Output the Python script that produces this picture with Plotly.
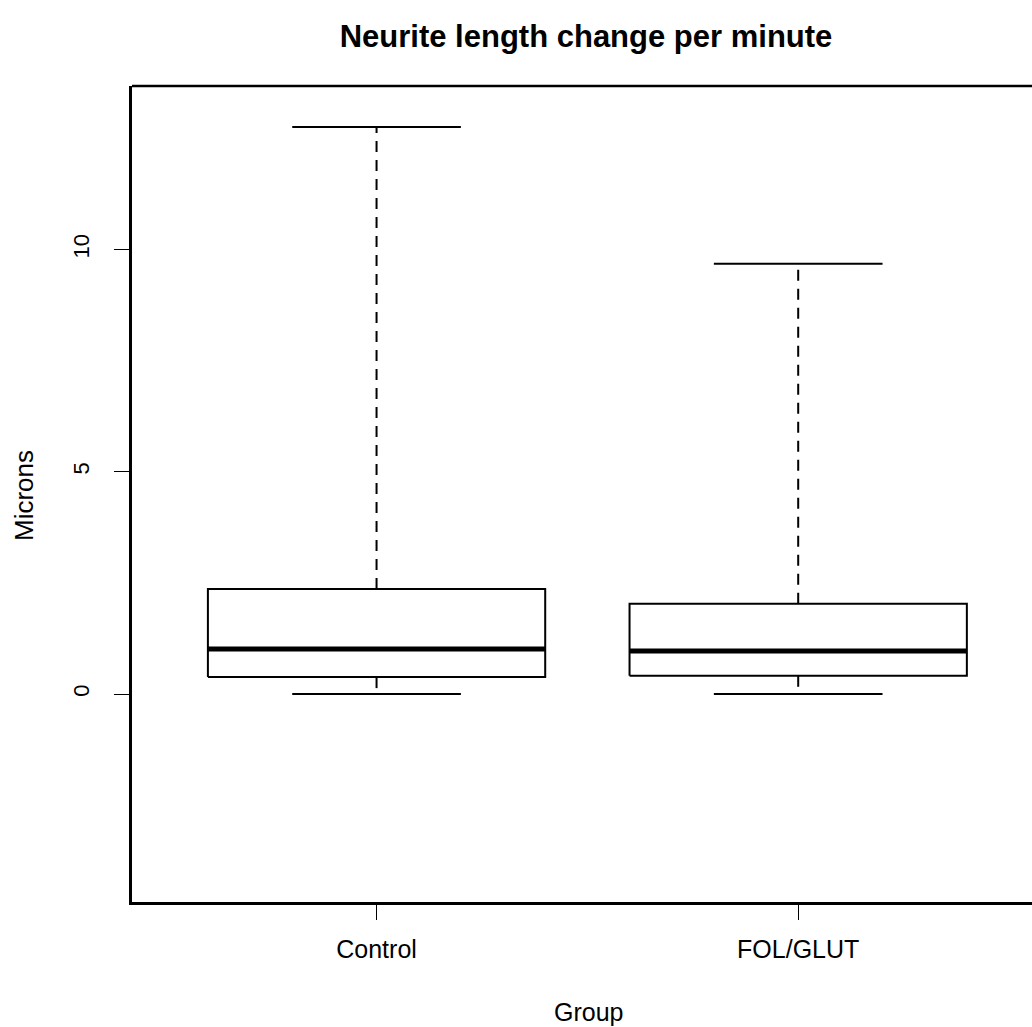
import plotly.graph_objects as go

groups = ["Control", "FOL/GLUT"]
lower = [0.0, 0.0]
q1 = [0.38, 0.41]
median = [1.01, 0.97]
q3 = [2.36, 2.03]
upper = [12.76, 9.68]

yticks = [0, 5, 10]

FONT = "Liberation Sans, Arial, Helvetica, sans-serif"
BOX_HALF = 0.4
CAP_HALF = 0.2

fig = go.Figure()
for i, g in enumerate(groups):
    x = i + 1
    # box outline
    fig.add_trace(go.Scatter(
        x=[x - BOX_HALF, x + BOX_HALF, x + BOX_HALF, x - BOX_HALF, x - BOX_HALF],
        y=[q1[i], q1[i], q3[i], q3[i], q1[i]],
        mode="lines", line=dict(color="black", width=2), hoverinfo="skip", showlegend=False))
    # median
    fig.add_trace(go.Scatter(
        x=[x - BOX_HALF, x + BOX_HALF], y=[median[i], median[i]],
        mode="lines", line=dict(color="black", width=5), showlegend=False))
    # whiskers
    fig.add_trace(go.Scatter(
        x=[x, x, None, x, x], y=[q3[i], upper[i], None, q1[i], lower[i]],
        mode="lines", line=dict(color="black", width=2, dash="11px,8px"), showlegend=False))
    # caps
    fig.add_trace(go.Scatter(
        x=[x - CAP_HALF, x + CAP_HALF, None, x - CAP_HALF, x + CAP_HALF],
        y=[upper[i], upper[i], None, lower[i], lower[i]],
        mode="lines", line=dict(color="black", width=2), showlegend=False))

fig.update_layout(
    width=1032, height=1027,
    margin=dict(l=132, r=0, t=86, b=125),
    paper_bgcolor="white", plot_bgcolor="white",
    font=dict(family=FONT, color="black", size=25),
    title=dict(text="<b>Neurite length change per minute</b>", x=586 / 1032, xanchor="center",
               y=1 - 36 / 1027, yanchor="middle", yref="container",
               font=dict(size=31, family=FONT, color="black")),
    xaxis=dict(range=[0.42, 2.5545], tickvals=[1, 2], ticktext=groups,
               showline=True, linecolor="black", linewidth=2.5, mirror=False,
               ticks="outside", ticklen=15, tickwidth=1.2, tickcolor="black",
               showgrid=False, zeroline=False, ticklabelstandoff=8,
               tickfont=dict(size=25)),
    yaxis=dict(range=[-4.68, 13.68], tickvals=yticks, ticktext=[str(v) for v in yticks],
               showline=True, linecolor="black", linewidth=2.5,
               ticks="outside", ticklen=15, tickwidth=1.2, tickcolor="black",
               showgrid=False, zeroline=False, tickangle=-90, ticklabelstandoff=16,
               tickfont=dict(size=22)),
    shapes=[dict(type="line", xref="paper", yref="paper", x0=0, x1=1, y0=1, y1=1,
                 line=dict(color="black", width=2.5))],
    annotations=[
        dict(text="Group", xref="paper", yref="paper", x=(588 - 132) / 900, y=(902 - 1012) / 816,
             xanchor="center", yanchor="middle", showarrow=False, font=dict(size=25)),
        dict(text="Microns", xref="paper", yref="paper", x=(24 - 132) / 900, y=(902 - 496) / 816,
             xanchor="center", yanchor="middle", showarrow=False, textangle=-90, font=dict(size=26)),
    ],
)

fig.write_html("out.html", config={"displayModeBar": False},
               post_script="document.body.style.margin='0';document.body.style.overflow='hidden';")
